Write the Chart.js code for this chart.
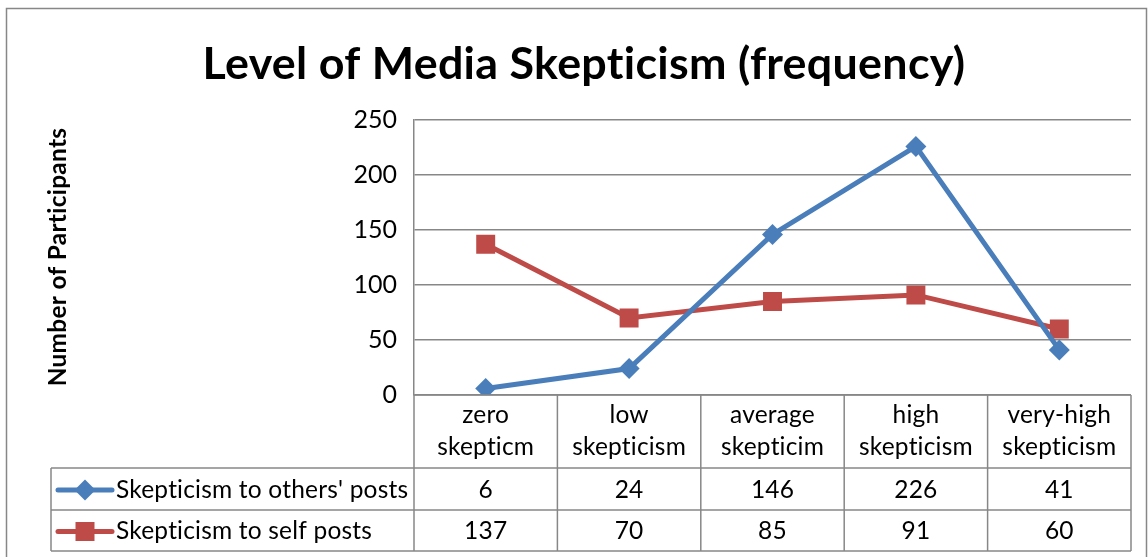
<!DOCTYPE html>
<html>
<head>
<meta charset="utf-8">
<script src="https://cdn.jsdelivr.net/npm/chart.js@4.4.1/dist/chart.umd.min.js"></script>
<style>
    html, body { margin: 0; padding: 0; background: #fff; }
    #wrap { width: 1148px; height: 557px; }
</style>
</head>
<body>
<div id="wrap"><canvas id="skepticismChart" width="1148" height="557"></canvas></div>
<script>
const chartTitle = 'Level of Media Skepticism (frequency)';
const yAxisTitle = 'Number of Participants';
const categories = [
    ['zero', 'skepticm'],
    ['low', 'skepticism'],
    ['average', 'skepticim'],
    ['high', 'skepticism'],
    ['very-high', 'skepticism']
];
const othersLabel = "Skepticism to others' posts";
const othersValues = [6, 24, 146, 226, 41];
const selfLabel = 'Skepticism to self posts';
const selfValues = [137, 70, 85, 91, 60];
const yMin = 0;
const yMax = 250;
const yStep = 50;

const FONT = 'Lato, "Open Sans", sans-serif';
const GRID = '#878787';
const TABLE_FONT = '24.5px ' + FONT;

// fit a font size so the text takes the given width
function fitFont(ctx, text, weight, width) {
    ctx.font = weight + ' 100px ' + FONT;
    const w = ctx.measureText(text).width;
    return weight + ' ' + (100 * width / w).toFixed(1) + 'px ' + FONT;
}

function drawMarker(ctx, style, x, y, color) {
    ctx.fillStyle = color;
    ctx.beginPath();
    if (style === 'rectRot') {
        const r = 10.5;
        ctx.moveTo(x, y - r); ctx.lineTo(x + r, y); ctx.lineTo(x, y + r); ctx.lineTo(x - r, y);
    } else {
        const s = 9.5;
        ctx.rect(x - s, y - s, 2 * s, 2 * s);
    }
    ctx.closePath();
    ctx.fill();
}

const tablePlugin = {
    id: 'dataTable',
    beforeDraw(chart) {
        const ctx = chart.ctx;
        ctx.save();
        ctx.fillStyle = '#fff';
        ctx.fillRect(0, 0, chart.width, chart.height);
        // outer chart border
        ctx.strokeStyle = GRID;
        ctx.lineWidth = 1.5;
        ctx.strokeRect(6.5, 8.5, 1140, 560);
        ctx.restore();
    },
    afterDraw(chart) {
        const ctx = chart.ctx;
        const area = chart.chartArea;
        const xs = chart.scales.x;
        const n = chart.data.labels.length;
        const colW = (area.right - area.left) / n;
        const headBottom = 468, row1Bottom = 510, row2Bottom = 551, legendLeft = 51;

        ctx.save();
        if ('letterSpacing' in ctx) ctx.letterSpacing = '0.2px'; // avoids the "ti" ligature
        ctx.strokeStyle = GRID;
        ctx.lineWidth = 1.5;
        const line = (x1, y1, x2, y2) => { ctx.beginPath(); ctx.moveTo(x1, y1); ctx.lineTo(x2, y2); ctx.stroke(); };

        // table grid
        line(area.left, area.bottom, area.right, area.bottom);
        line(legendLeft, headBottom, area.right, headBottom);
        line(legendLeft, row1Bottom, area.right, row1Bottom);
        line(legendLeft, row2Bottom, area.right, row2Bottom);
        line(legendLeft, headBottom, legendLeft, row2Bottom);
        for (let i = 0; i <= n; i++) {
            const bx = xs.getPixelForValue(0) - colW / 2 + i * colW;
            line(bx, area.bottom, bx, row2Bottom);
        }

        // category labels
        ctx.fillStyle = '#000';
        ctx.textAlign = 'center';
        ctx.textBaseline = 'middle';
        ctx.font = TABLE_FONT;
        chart.data.labels.forEach((lab, i) => {
            const cx = xs.getPixelForValue(i);
            ctx.fillText(lab[0], cx, 415);
            ctx.fillText(lab[1], cx, 447);
        });

        // data rows with legend keys
        const rowMid = [(headBottom + row1Bottom) / 2, (row1Bottom + row2Bottom) / 2];
        chart.data.datasets.forEach((ds, r) => {
            const y = rowMid[r] + 1;
            ctx.strokeStyle = ds.borderColor;
            ctx.lineWidth = 5;
            ctx.lineCap = 'round';
            line(58, y, 112, y);
            drawMarker(ctx, ds.pointStyle, 85, y, ds.borderColor);
            ctx.fillStyle = '#000';
            ctx.textAlign = 'left';
            ctx.font = TABLE_FONT;
            ctx.fillText(ds.label, 116, y);
            ctx.textAlign = 'center';
            ds.data.forEach((v, i) => ctx.fillText(String(v), xs.getPixelForValue(i), y));
        });

        // title
        if ('letterSpacing' in ctx) ctx.letterSpacing = '0.3px';
        ctx.fillStyle = '#000';
        ctx.textAlign = 'center';
        ctx.textBaseline = 'alphabetic';
        ctx.font = fitFont(ctx, chartTitle, 'bold', 757);
        ctx.fillText(chartTitle, 584, 79);

        // y axis title
        ctx.translate(58, 257);
        ctx.rotate(-Math.PI / 2);
        ctx.textBaseline = 'middle';
        ctx.font = fitFont(ctx, yAxisTitle, 'bold', 254);
        ctx.fillText(yAxisTitle, 0, 0);
        ctx.restore();
    }
};

const ctx = document.getElementById('skepticismChart').getContext('2d');
const skepticismChart = new Chart(ctx, {
    type: 'line',
    data: {
        labels: categories,
        datasets: [{
            label: othersLabel,
            data: othersValues,
            borderColor: '#4A7EBB',
            backgroundColor: '#4A7EBB',
            borderWidth: 5,
            pointStyle: 'rectRot',
            pointRadius: 10.5,
            pointBorderWidth: 0,
            pointBackgroundColor: '#4A7EBB',
            tension: 0
        }, {
            label: selfLabel,
            data: selfValues,
            borderColor: '#BE4B48',
            backgroundColor: '#BE4B48',
            borderWidth: 5,
            pointStyle: 'rect',
            pointRadius: 13.4,
            pointBorderWidth: 0,
            pointBackgroundColor: '#BE4B48',
            tension: 0
        }]
    },
    options: {
        responsive: false,
        animation: false,
        devicePixelRatio: 1,
        layout: {
            padding: { left: 0, top: 120, right: 17, bottom: 162 }
        },
        scales: {
            x: {
                display: false,
                offset: true
            },
            y: {
                min: yMin,
                max: yMax,
                ticks: {
                    stepSize: yStep,
                    padding: 17,
                    color: '#000',
                    font: { family: FONT, size: 25 }
                },
                grid: {
                    color: GRID,
                    lineWidth: 1.5,
                    drawTicks: false
                },
                border: { display: true, color: GRID, width: 1.5 },
                afterFit: function (scale) {
                    scale.width = 414; // plot area starts at x=414
                }
            }
        },
        plugins: {
            legend: { display: false },
            title: { display: false },
            tooltip: { enabled: false }
        }
    },
    plugins: [tablePlugin]
});
</script>
</body>
</html>
